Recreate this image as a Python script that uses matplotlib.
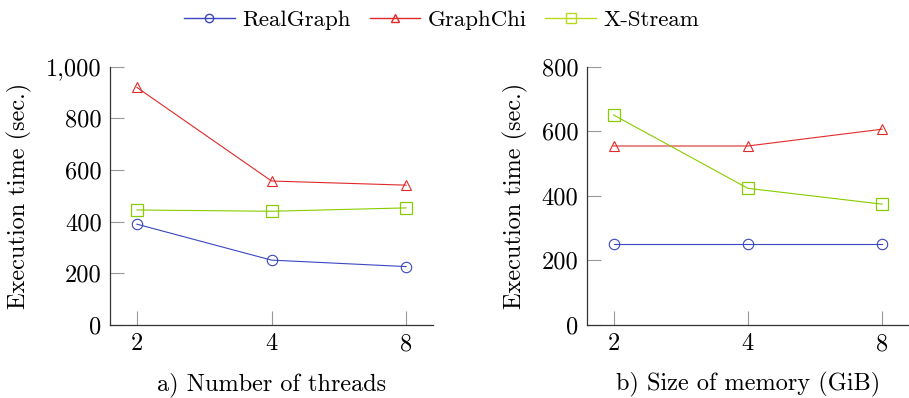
import matplotlib
matplotlib.use('Agg')
import matplotlib.pyplot as plt
from matplotlib.ticker import FuncFormatter

plt.rcParams['font.family'] = 'serif'
plt.rcParams['font.serif'] = ['cmr10', 'DejaVu Serif']
plt.rcParams['axes.formatter.use_mathtext'] = True

# 数据
x_labels = ['2', '4', '8']
threads_realgraph = [390, 251, 226]
threads_graphchi = [919, 557, 541]
threads_xstream = [445, 440, 453]
memory_realgraph = [250, 250, 250]
memory_graphchi = [554, 554, 606]
memory_xstream = [650, 423, 374]

BLUE = '#3a47c0'
RED = '#e02a2a'
GREEN = '#88cc00'
GREEN_LEG = '#bbd91a'
FS = 17.5

W, H = 909, 398
fig = plt.figure(figsize=(W / 100, H / 100), dpi=100)
ax1 = fig.add_axes([110 / W, (H - 325) / H, (433 - 110) / W, (325 - 66.5) / H])
ax2 = fig.add_axes([586.7 / W, (H - 325) / H, (909 - 586.7) / W, (325 - 66.5) / H])


def draw(ax, rg, gc, xs, ymax, step, xlabel):
    idx = range(len(x_labels))
    ax.plot(idx, rg, color=BLUE, lw=0.8, marker='o', ms=7.5,
            mfc='none', mec=BLUE, mew=0.8, label='RealGraph')
    ax.plot(idx, gc, color=RED, lw=0.8, marker='^', ms=6.5,
            mfc='none', mec=RED, mew=0.8, label='GraphChi')
    ax.plot(idx, xs, color=GREEN, lw=0.8, marker='s', ms=8,
            mfc='none', mec=GREEN, mew=0.9, label='X-Stream')
    ax.set_xlim(-0.2, 2.2)
    ax.set_ylim(0, ymax)
    ax.set_xticks(list(idx))
    ax.set_xticklabels(x_labels)
    ax.set_yticks(range(0, ymax + 1, step))
    ax.yaxis.set_major_formatter(FuncFormatter(lambda v, p: f'{v:,.0f}'))
    ax.spines['top'].set_visible(False)
    ax.spines['right'].set_visible(False)
    for s in ('left', 'bottom'):
        ax.spines[s].set_color('#333333')
        ax.spines[s].set_linewidth(0.9)
    ax.tick_params(direction='in', length=10, width=0.8, color='#999999',
                   labelsize=FS, pad=6)
    ax.set_ylabel('Execution time (sec.)', fontsize=FS, labelpad=10)
    ax.set_xlabel(xlabel, fontsize=FS, labelpad=12)


draw(ax1, threads_realgraph, threads_graphchi, threads_xstream,
     1000, 200, 'a) Number of threads')
draw(ax2, memory_realgraph, memory_graphchi, memory_xstream,
     800, 200, 'b) Size of memory (GiB)')

leg_handles = [
    plt.Line2D([], [], color=BLUE, lw=1.0, marker='o', ms=6, mfc='none', mec=BLUE),
    plt.Line2D([], [], color=RED, lw=1.0, marker='^', ms=6, mfc='none', mec=RED),
    plt.Line2D([], [], color=GREEN_LEG, lw=1.0, marker='s', ms=6.5, mfc='none', mec=GREEN_LEG),
]
fig.legend(leg_handles, ['RealGraph', 'GraphChi', 'X-Stream'], loc='center',
           bbox_to_anchor=(442 / W, 1 - 20 / H), ncol=3, frameon=False,
           fontsize=16.5, handlelength=2.2, columnspacing=0.8, handletextpad=0.35,
           borderpad=0.2)

fig.savefig('out.png', dpi=100)
